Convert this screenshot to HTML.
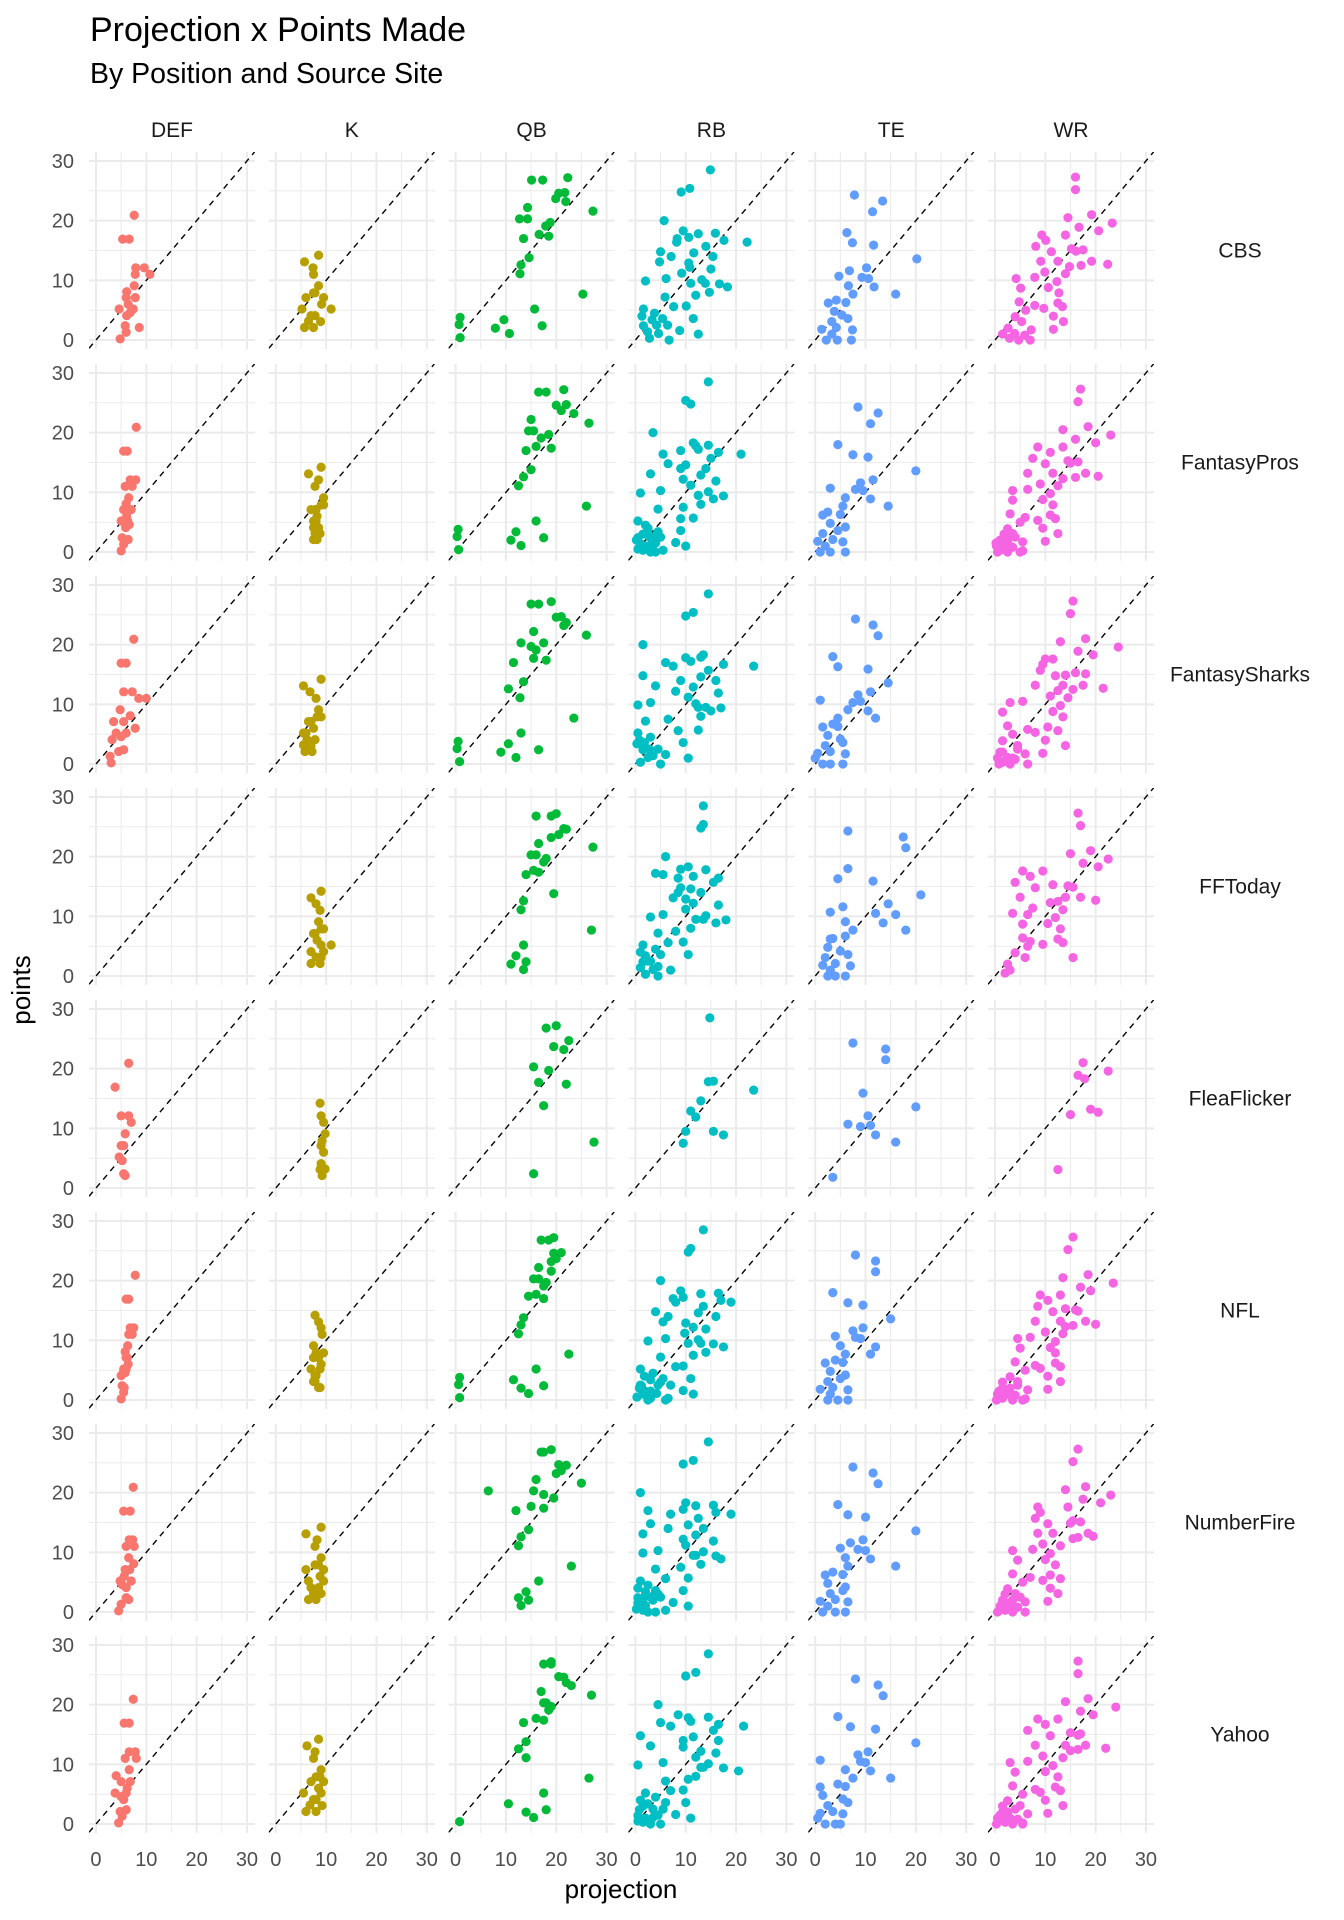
<!DOCTYPE html>
<html><head><meta charset="utf-8"><style>
html,body{margin:0;padding:0;background:#fff;}
svg{display:block;font-family:"Liberation Sans",Arial,sans-serif;}
</style></head><body>
<svg id="chart" width="1344" height="1920" viewBox="0 0 1344 1920" xmlns="http://www.w3.org/2000/svg">
<text x="90" y="41" font-size="34" fill="#000">Projection x Points Made</text>
<text x="90" y="83" font-size="28.5" fill="#000">By Position and Source Site</text>
<text transform="translate(30,990) rotate(-90)" text-anchor="middle" font-size="26" fill="#000">points</text>
<text x="621" y="1898" text-anchor="middle" font-size="26" fill="#000">projection</text>
<g id="panels"></g>
</svg>
<script>
const positions = ["DEF","K","QB","RB","TE","WR"];
const sources = ["CBS","FantasyPros","FantasySharks","FFToday","FleaFlicker","NFL","NumberFire","Yahoo"];
const colors = ["#F8766D","#B79F00","#00BA38","#00BFC4","#619CFF","#F564E3"];
const xTicks = [0,10,20,30];
const yTicks = [0,10,20,30];
const minorTicks = [5,15,25];
const tickLabels = ["0","10","20","30"];
const N = null;

const DEF_points = [20.9,16.9,16.9,12.1,12.1,11.0,11.0,9.1,8.1,7.1,7.1,5.2,5.2,4.1,4.6,2.4,2.1,1.3,0.2,6.0];
const DEF_CBS = [7.6,5.3,6.6,7.9,9.6,7.8,10.7,7.6,6.1,6.0,7.8,4.6,7.4,6.1,6.8,5.8,8.6,6.0,4.8,6.4];
const DEF_FantasyPros = [8.0,5.5,6.2,6.8,7.9,5.8,7.2,6.5,6.0,5.5,7.0,5.0,6.3,5.9,6.6,5.2,6.4,5.5,5.0,6.1];
const DEF_FantasySharks = [7.5,5.0,6.0,5.5,7.2,8.5,10.0,4.8,6.8,3.5,5.5,4.0,6.0,3.2,5.0,5.5,4.5,2.8,3.0,7.8];
const DEF_FFToday = [N,N,N,N,N,N,N,N,N,N,N,N,N,N,N,N,N,N,N,N];
const DEF_FleaFlicker = [6.5,3.8,N,5.0,6.5,N,7.0,5.8,N,5.0,5.5,4.6,N,N,5.2,5.5,5.8,N,N,N];
const DEF_NFL = [7.8,6.0,6.5,6.8,7.5,7.2,6.5,6.3,5.8,6.0,6.2,5.5,6.0,5.0,5.8,5.2,5.6,5.5,5.0,6.4];
const DEF_NumberFire = [7.4,5.5,6.8,6.6,7.3,6.0,7.6,6.5,7.5,5.8,6.7,4.8,7.0,6.0,5.2,6.0,6.5,5.0,4.5,5.6];
const DEF_Yahoo = [7.4,5.6,6.6,7.8,6.6,5.8,8.0,6.6,4.0,6.8,5.0,3.8,6.0,5.5,5.0,6.0,4.8,5.2,4.5,6.2];

const K_points = [14.2,13.1,12.1,11.0,9.1,7.9,7.1,7.1,6.0,5.2,5.2,4.1,4.1,3.1,2.1,2.1,3.2,7.9];
const K_CBS = [8.5,5.7,7.4,7.5,8.5,7.8,9.5,6.0,9.1,5.2,11.0,7.0,7.8,8.9,5.7,7.5,6.5,7.5];
const K_FantasyPros = [9.0,6.5,8.5,7.8,9.5,9.0,8.0,7.0,8.2,8.0,7.5,7.5,8.5,8.8,7.5,8.2,7.8,9.5];
const K_FantasySharks = [9.0,5.5,6.8,8.0,8.5,9.0,7.0,6.5,7.5,5.5,6.0,6.2,7.8,7.0,5.8,7.2,5.5,8.2];
const K_FFToday = [9.0,7.0,8.0,8.8,8.5,9.5,7.8,7.5,8.2,9.0,11.0,7.0,9.5,9.0,7.0,8.8,8.0,9.0];
const K_FleaFlicker = [8.8,N,9.0,9.5,9.8,9.2,N,9.0,9.5,N,N,N,9.0,8.8,9.2,N,9.8,N];
const K_NFL = [7.8,8.5,9.0,9.2,7.5,8.0,8.5,7.5,9.0,7.0,8.8,7.8,8.0,7.5,8.5,8.8,7.8,9.5];
const K_NumberFire = [9.0,6.0,8.2,7.8,9.0,8.5,9.5,6.0,8.8,6.5,9.5,7.0,8.5,9.0,6.5,8.0,7.5,7.8];
const K_Yahoo = [8.5,6.2,7.8,7.5,9.0,8.8,9.5,7.0,8.5,5.5,9.0,7.5,8.0,9.2,6.0,8.0,6.8,8.0];

const QB_points = [27.2,26.8,26.8,24.7,24.6,23.7,23.2,22.2,21.6,20.3,20.3,19.7,19.1,17.7,17.4,17.0,13.8,12.6,11.1,7.7,5.2,3.8,3.4,2.6,2.4,2.0,1.1,0.4];
const QB_CBS = [22.3,15.1,17.3,21.7,20.5,19.9,21.9,14.3,27.3,12.7,14.3,18.8,17.9,16.6,18.5,13.5,14.6,13.0,12.8,25.3,15.7,0.9,9.6,0.7,17.2,7.9,10.7,0.9];
const QB_FantasyPros = [21.5,16.5,18.0,22.0,20.0,21.0,23.5,15.0,26.5,14.5,15.5,18.5,17.0,16.0,19.0,14.0,15.0,13.5,12.5,26.0,16.0,0.5,12.0,0.3,17.5,11.0,13.0,0.6];
const QB_FantasySharks = [19.0,15.0,16.5,21.0,20.0,22.0,21.5,15.5,26.0,13.0,17.5,15.0,16.0,15.5,18.0,11.5,13.5,10.5,12.8,23.5,13.0,0.5,10.5,0.3,16.5,9.0,12.0,0.8];
const QB_FFToday = [20.0,19.0,16.0,21.5,22.0,20.5,19.0,16.5,27.3,15.0,16.0,18.0,17.5,15.5,16.5,14.0,19.5,13.5,13.0,27.0,13.5,N,12.0,N,14.0,11.0,13.5,N];
const QB_FleaFlicker = [20.0,18.0,N,22.5,N,19.5,21.5,N,N,15.5,N,18.5,N,16.5,22.0,N,17.5,N,N,27.5,N,N,N,N,15.5,N,N,N];
const QB_NFL = [19.5,17.0,18.5,21.0,19.5,20.0,19.0,16.5,19.0,15.5,16.5,18.0,17.5,16.0,14.5,17.5,13.5,13.0,12.5,22.5,16.0,0.8,11.5,0.6,17.5,13.0,14.5,0.8];
const QB_NumberFire = [19.0,17.0,17.5,20.5,22.0,21.0,20.0,16.0,25.0,15.5,6.5,17.5,19.5,15.0,17.5,12.0,14.5,13.0,12.5,23.0,16.5,N,14.0,N,12.5,14.5,13.0,N];
const QB_Yahoo = [19.0,17.5,19.0,20.5,21.5,22.0,23.0,17.0,27.0,18.0,17.5,19.0,18.5,16.0,17.5,13.5,14.0,12.5,14.0,26.5,17.5,N,10.5,N,18.0,14.0,15.5,0.8];

const RB_points = [28.5,24.8,25.4,20.0,18.3,17.8,17.9,16.7,16.4,17.0,17.2,16.4,15.7,14.6,14.8,14.0,14.0,13.1,12.9,12.2,11.9,11.2,9.9,10.3,9.5,10.1,9.5,9.4,8.9,8.0,7.5,7.2,5.6,5.7,5.2,4.0,4.5,3.6,2.4,2.5,2.5,1.6,1.0,0.3,0.0,1.1,3.4,3.6,1.4,0.5,1.0,0.0,2.0,1.5,3.0,0.3,2.5];
const RB_CBS = [14.9,9.1,10.8,5.7,9.5,12.5,15.9,17.6,22.2,8.3,10.6,8.2,14.0,11.6,5.0,7.1,15.4,4.8,10.6,10.8,15.0,9.2,2.0,6.1,11.0,13.2,13.9,16.7,18.3,14.7,12.0,5.9,7.6,10.1,1.6,1.3,3.8,11.5,1.6,4.2,6.4,8.8,12.5,2.8,6.7,4.6,3.3,5.4,2.4,N,N,N,N,N,N,N,N];
const RB_FantasyPros = [14.5,11.0,10.0,3.5,11.5,12.0,14.5,16.5,21.0,9.0,12.5,5.5,15.0,10.0,6.5,9.0,14.0,3.0,13.0,9.5,16.0,11.0,1.0,5.0,12.5,14.5,12.5,17.5,15.5,13.0,9.5,4.5,9.0,11.5,0.5,2.5,2.0,9.0,0.5,3.5,5.0,8.0,10.0,1.5,4.0,3.0,4.5,2.5,1.0,0.5,2.0,3.0,0.2,4.0,1.5,5.5,2.8];
const RB_FantasySharks = [14.5,10.0,11.5,1.5,13.5,10.0,13.0,17.5,23.5,6.0,11.0,7.5,14.5,13.0,1.5,9.0,16.0,4.0,11.5,8.0,16.5,10.5,0.5,3.0,14.0,12.0,12.5,17.0,15.0,13.0,6.5,2.0,8.5,12.5,0.5,0.8,3.0,9.5,1.5,2.8,4.5,6.0,10.5,1.0,5.0,2.5,0.3,1.8,3.5,N,N,N,N,N,N,N,N];
const RB_FFToday = [13.5,13.0,13.5,6.0,10.5,14.0,9.0,11.5,16.5,5.5,4.0,8.5,15.5,11.0,9.0,8.5,13.0,7.5,10.0,11.5,16.5,10.0,3.0,5.5,13.5,14.0,12.0,18.0,16.0,11.0,8.0,4.5,6.5,9.5,1.5,1.0,4.0,10.5,1.5,3.0,2.5,4.5,7.0,2.0,4.5,3.5,2.0,5.0,1.0,N,N,N,N,N,N,N,N];
const RB_FleaFlicker = [14.8,N,N,N,N,14.5,15.5,N,23.5,N,N,N,N,13.0,N,N,N,N,11.0,N,12.0,N,N,N,10.0,N,15.5,N,17.5,N,9.5,N,N,N,N,N,N,N,N,N,N,N,N,N,N,N,N,N,N,N,N,N,N,N,N,N,N];
const RB_NFL = [13.5,10.5,11.0,5.0,9.0,13.0,16.5,17.0,19.0,7.5,9.5,8.0,13.5,12.5,4.0,6.5,16.0,5.5,10.0,11.5,14.0,9.8,2.5,6.0,10.5,12.5,13.0,15.5,17.5,14.0,11.5,5.0,8.0,9.5,1.0,1.8,3.5,11.0,1.2,4.5,7.0,9.5,11.5,3.0,6.0,4.2,3.0,5.5,2.2,0.3,1.5,2.5,0.8,3.0,5.0,6.5,1.0];
const RB_NumberFire = [14.5,9.5,11.5,1.0,10.0,12.0,15.5,16.0,19.0,2.5,9.5,7.0,12.5,10.5,3.0,6.5,13.5,1.5,12.0,9.5,15.5,10.0,1.5,4.5,12.0,13.5,11.5,16.0,17.0,13.0,9.0,4.0,6.0,10.5,1.0,0.5,2.5,9.5,0.5,3.0,5.0,7.5,10.5,1.5,4.0,2.0,2.0,4.0,1.0,0.2,1.0,2.5,3.5,0.5,4.5,6.0,1.8];
const RB_Yahoo = [14.5,10.0,12.0,4.5,8.5,10.5,14.5,16.5,21.5,5.0,11.0,7.0,15.5,11.5,1.0,9.5,16.5,3.0,9.5,13.0,16.0,12.0,0.5,5.5,13.5,14.5,13.0,17.5,20.5,12.0,10.5,6.0,7.0,9.5,2.0,1.0,4.0,10.0,0.8,3.5,5.5,8.0,11.0,1.5,5.0,3.5,2.5,6.0,0.5,0.5,2.0,3.0,N,4.5,1.5,N,N];

const TE_points = [24.3,23.3,21.5,18.0,16.3,15.9,13.6,11.6,10.7,12.1,10.5,10.3,8.9,9.1,7.7,7.7,6.2,6.7,6.3,4.8,4.2,3.6,3.1,1.8,2.1,1.7,0.0,0.0,0.0,1.0];
const TE_CBS = [7.8,13.4,11.4,6.3,7.4,11.6,20.2,6.8,4.7,10.2,9.3,10.6,11.7,6.6,16.0,7.5,2.6,4.2,6.1,3.8,5.3,6.5,3.3,1.3,4.2,7.4,2.2,4.4,7.2,3.3];
const TE_FantasyPros = [8.5,12.5,11.0,4.5,7.5,10.5,20.0,9.0,3.0,11.5,8.0,9.5,11.0,6.0,14.5,5.5,1.5,2.5,5.0,3.0,6.0,4.5,1.5,0.5,3.5,5.5,1.0,3.0,6.0,2.0];
const TE_FantasySharks = [8.0,11.5,12.5,3.5,4.5,10.5,14.5,8.5,1.0,11.0,9.0,7.5,10.5,6.5,12.0,4.5,1.5,3.5,4.5,2.5,5.0,5.5,2.0,0.5,3.0,6.0,1.5,3.0,5.5,0.0];
const TE_FFToday = [6.5,17.5,18.0,6.5,4.5,11.5,21.0,5.5,3.0,14.5,12.0,16.0,13.5,6.0,18.0,7.5,3.0,6.0,3.5,2.5,5.0,6.5,2.0,1.5,4.0,7.0,2.5,4.0,6.0,3.0];
const TE_FleaFlicker = [7.5,14.0,14.0,N,N,9.5,20.0,N,6.5,10.5,11.0,9.0,12.0,N,16.0,N,N,N,N,N,N,N,N,3.5,N,N,N,N,N,N];
const TE_NFL = [8.0,12.0,12.0,3.5,6.5,9.5,15.0,7.5,4.0,9.5,8.0,9.0,12.0,5.0,11.0,6.0,2.0,4.0,5.5,3.0,6.0,5.0,2.5,1.0,3.5,6.5,2.5,4.5,6.5,3.0];
const TE_NumberFire = [7.5,11.5,12.5,4.5,6.5,10.0,20.0,7.0,5.0,9.5,8.5,10.0,11.0,6.0,16.0,6.5,2.0,3.5,5.5,2.5,6.0,5.5,3.0,1.0,4.0,6.5,1.5,4.0,6.0,2.5];
const TE_Yahoo = [8.0,12.5,13.5,4.5,7.0,12.0,20.0,8.5,1.0,10.5,9.0,10.0,11.0,6.0,15.0,7.5,1.0,4.5,6.0,1.5,5.5,6.5,2.5,1.0,3.5,5.5,2.0,4.0,5.0,0.5];

const WR_points = [27.3,25.2,21.0,20.5,19.6,18.3,18.9,17.6,17.6,16.7,15.7,15.3,15.1,14.8,14.9,13.2,13.2,13.2,12.7,12.5,12.3,11.4,11.1,10.3,10.5,9.8,8.7,8.8,7.9,6.4,5.8,6.2,5.6,5.0,5.3,3.9,4.0,3.1,3.1,2.0,1.7,1.8,0.3,0.0,0.0,1.0,0.8,1.1,0.0,0.5,1.0,1.5,2.0,2.5,0.2,3.0];
const WR_CBS = [16.0,16.0,19.2,14.5,23.3,20.6,16.7,9.3,14.0,10.1,8.1,15.2,17.5,11.2,16.1,9.1,12.5,19.2,22.4,17.1,14.8,9.9,14.0,4.2,7.9,12.3,5.1,10.6,12.7,4.8,7.9,12.5,13.4,6.1,9.7,4.0,11.6,13.6,5.3,2.6,7.2,11.6,2.9,4.7,7.0,1.5,5.9,3.9,N,N,N,N,N,N,N,N];
const WR_FantasyPros = [17.0,16.5,18.5,13.5,23.0,20.0,16.0,8.5,13.5,11.0,7.5,14.5,16.5,10.0,15.0,6.5,11.5,18.0,20.5,16.0,13.5,9.0,12.5,3.5,6.5,11.0,3.5,9.5,11.5,3.0,6.0,11.0,12.0,5.0,8.5,2.5,9.5,12.5,3.5,1.0,5.5,10.0,1.0,2.5,5.0,0.3,3.5,2.0,0.5,1.5,3.0,0.2,2.5,4.0,5.5,1.8];
const WR_FantasySharks = [15.5,15.0,18.0,13.0,24.5,19.5,16.5,10.0,11.5,9.5,9.0,16.0,18.0,12.0,14.0,8.0,13.5,17.5,21.5,15.5,12.5,11.0,14.5,3.0,5.5,13.0,1.5,11.5,13.5,2.5,6.5,10.5,12.5,3.5,8.0,1.5,10.0,14.0,4.5,1.0,6.0,9.5,1.5,3.0,6.5,0.5,4.0,2.5,0.8,2.0,3.5,N,1.5,4.5,N,N];
const WR_FFToday = [16.5,17.0,19.0,15.0,22.5,20.5,17.5,5.5,9.5,7.0,4.0,11.5,14.5,8.0,15.5,5.0,14.0,17.0,20.0,12.5,11.0,7.5,13.5,6.5,3.5,12.0,5.5,10.5,13.0,5.5,7.0,12.5,13.5,6.5,9.5,4.0,N,15.5,6.0,2.5,N,N,N,N,N,3.0,N,N,N,2.0,N,N,N,N,N,N];
const WR_FleaFlicker = [N,N,17.5,N,22.5,17.8,16.5,N,N,N,N,N,N,N,N,N,N,19.0,20.5,N,15.0,N,N,N,N,N,N,N,N,N,N,N,N,N,N,N,N,N,12.5,N,N,N,N,N,N,N,N,N,N,N,N,N,N,N,N,N];
const WR_NFL = [15.5,14.5,18.5,13.5,23.5,19.0,17.0,9.0,13.0,10.5,8.5,14.0,16.0,11.5,16.5,8.0,13.0,18.0,20.0,15.5,14.0,10.0,13.5,4.5,7.0,12.0,5.0,11.0,12.0,4.0,8.0,12.0,13.0,6.0,9.0,3.0,10.5,13.0,4.5,1.5,6.5,10.5,1.5,3.5,5.5,0.5,4.0,2.5,0.3,1.0,2.5,0.8,3.0,4.5,6.0,1.5];
const WR_NumberFire = [16.5,15.5,18.0,14.0,23.0,21.0,17.5,8.5,14.5,9.0,8.0,15.5,17.0,10.5,15.0,8.5,11.5,18.5,19.5,16.5,15.5,9.5,13.0,3.5,7.5,11.0,4.5,10.0,12.0,3.5,7.0,11.0,13.0,5.5,9.5,2.5,11.0,12.5,4.0,1.5,6.0,10.5,2.0,3.5,6.0,1.0,4.5,3.0,0.5,1.5,N,2.5,3.5,5.0,N,2.0];
const WR_Yahoo = [16.5,16.5,18.5,14.0,24.0,19.5,17.0,8.5,12.5,10.0,6.5,15.0,17.0,11.0,16.5,8.0,14.0,18.0,22.0,16.5,15.0,9.5,13.5,3.0,6.5,11.5,4.0,10.0,12.5,3.5,8.0,12.0,13.0,5.5,9.0,2.5,10.0,13.5,5.0,1.5,6.5,10.5,2.0,3.5,5.5,0.5,4.5,2.0,0.3,2.0,3.0,1.0,2.5,4.0,5.5,1.5];

const pointsByPos = [DEF_points,K_points,QB_points,RB_points,TE_points,WR_points];
const projBySource = [
  [DEF_CBS,K_CBS,QB_CBS,RB_CBS,TE_CBS,WR_CBS],
  [DEF_FantasyPros,K_FantasyPros,QB_FantasyPros,RB_FantasyPros,TE_FantasyPros,WR_FantasyPros],
  [DEF_FantasySharks,K_FantasySharks,QB_FantasySharks,RB_FantasySharks,TE_FantasySharks,WR_FantasySharks],
  [DEF_FFToday,K_FFToday,QB_FFToday,RB_FFToday,TE_FFToday,WR_FFToday],
  [DEF_FleaFlicker,K_FleaFlicker,QB_FleaFlicker,RB_FleaFlicker,TE_FleaFlicker,WR_FleaFlicker],
  [DEF_NFL,K_NFL,QB_NFL,RB_NFL,TE_NFL,WR_NFL],
  [DEF_NumberFire,K_NumberFire,QB_NumberFire,RB_NumberFire,TE_NumberFire,WR_NumberFire],
  [DEF_Yahoo,K_Yahoo,QB_Yahoo,RB_Yahoo,TE_Yahoo,WR_Yahoo]
];

const NS = "http://www.w3.org/2000/svg";
const PANEL_W = 166, PANEL_H = 197;
const XMIN = -1.39, XMAX = 31.6, YMIN = -1.5, YMAX = 31.5;
function panelLeft(c){ return 89 + c*179.8; }
function panelTop(r){ return 152 + r*212; }
function sx(c, v){ return panelLeft(c) + (v - XMIN) / (XMAX - XMIN) * PANEL_W; }
function sy(r, v){ return panelTop(r) + PANEL_H - (v - YMIN) / (YMAX - YMIN) * PANEL_H; }
function mk(tag, attrs, parent){
  const e = document.createElementNS(NS, tag);
  for (const k in attrs) e.setAttribute(k, attrs[k]);
  parent.appendChild(e);
  return e;
}
const root = document.getElementById("panels");
const defs = mk("defs", {}, root);

positions.forEach((p, c) => {
  const t = mk("text", {x: panelLeft(c) + PANEL_W/2, y: 137, "text-anchor": "middle", "font-size": 21, fill: "#1a1a1a"}, root);
  
  
  t.textContent = p;
});

sources.forEach((s, r) => {
  const rl = mk("text", {x: 1240, y: panelTop(r) + PANEL_H/2 + 7, "text-anchor": "middle", "font-size": 21, fill: "#1a1a1a"}, root);
  
  
  rl.textContent = s;

  yTicks.forEach((v, i) => {
    const t = mk("text", {x: 74, y: sy(r, v) + 7, "text-anchor": "end", "font-size": 20, fill: "#4d4d4d"}, root);
    
    
    t.textContent = tickLabels[i];
  });

  positions.forEach((p, c) => {
    const g = mk("g", {}, root);
    
    
    const L = panelLeft(c), T = panelTop(r);
    const cid = "clip-" + r + "-" + c;
    const cp = mk("clipPath", {id: cid}, defs);
    mk("rect", {x: L, y: T, width: PANEL_W, height: PANEL_H}, cp);
    minorTicks.forEach(v => {
      const a = mk("line", {x1: sx(c, v), x2: sx(c, v), y1: T, y2: T + PANEL_H, stroke: "#ebebeb", "stroke-width": 1}, g);
      
      
      const b = mk("line", {x1: L, x2: L + PANEL_W, y1: sy(r, v), y2: sy(r, v), stroke: "#ebebeb", "stroke-width": 1}, g);
      
      
    });
    xTicks.forEach(v => {
      const a = mk("line", {x1: sx(c, v), x2: sx(c, v), y1: T, y2: T + PANEL_H, stroke: "#ebebeb", "stroke-width": 2}, g);
      
      
    });
    yTicks.forEach(v => {
      const b = mk("line", {x1: L, x2: L + PANEL_W, y1: sy(r, v), y2: sy(r, v), stroke: "#ebebeb", "stroke-width": 2}, g);
      
      
    });
    const ref = mk("line", {x1: sx(c, XMIN), y1: sy(r, XMIN), x2: sx(c, XMAX), y2: sy(r, XMAX), stroke: "#000", "stroke-width": 1.4, "stroke-dasharray": "6,5", "clip-path": "url(#" + cid + ")"}, g);
    
    
    const pts = pointsByPos[c], proj = projBySource[r][c];
    for (let i = 0; i < pts.length; i++) {
      if (proj[i] === null || proj[i] === undefined) continue;
      const d = mk("circle", {cx: sx(c, proj[i]), cy: sy(r, pts[i]), r: 4.6, fill: colors[c]}, g);
      
      
    }
    if (r === sources.length - 1) {
      xTicks.forEach((v, i) => {
        const t = mk("text", {x: sx(c, v), y: 1866, "text-anchor": "middle", "font-size": 20, fill: "#4d4d4d"}, root);
        
        
        t.textContent = tickLabels[i];
      });
    }
  });
});
</script>
</body></html>
